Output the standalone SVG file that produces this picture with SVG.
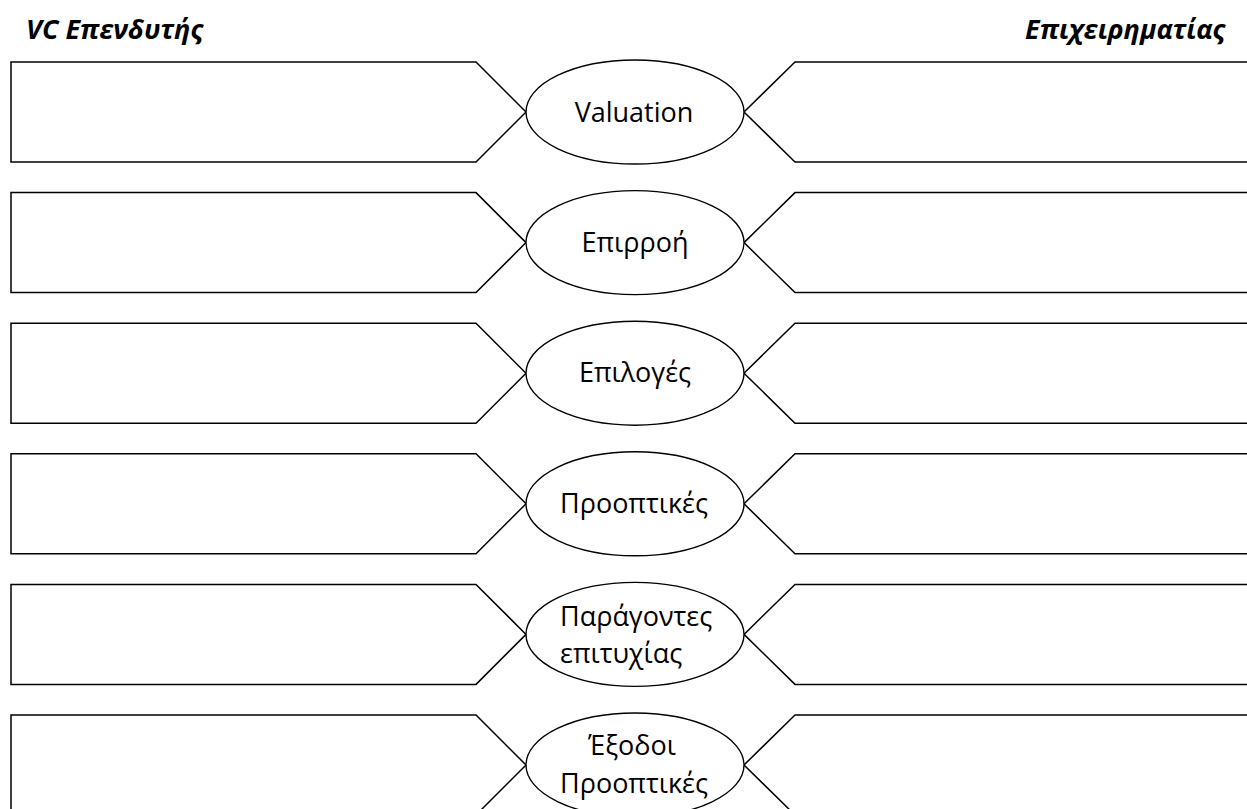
<svg xmlns="http://www.w3.org/2000/svg" width="1247" height="809" viewBox="0 0 1247 809">
<style>
.box{fill:#fff;stroke:#000;stroke-width:1.5;stroke-linejoin:miter}
.ell{fill:#fff;stroke:#000;stroke-width:1.4}
.lbl{font-family:"Open Sans","Noto Sans",sans-serif;font-size:27px;fill:#000;text-anchor:middle}
.lbl.st{text-anchor:start}
.ttl{font-family:"Open Sans","Noto Sans",sans-serif;font-size:27px;font-weight:bold;font-style:italic;fill:#000}
</style>
<rect width="1247" height="809" fill="#fff"/>
<text class="ttl" x="26" y="39">VC Επενδυτής</text>
<text class="ttl" x="1225" y="39" text-anchor="end">Επιχειρηματίας</text>

<g id="row1">
<g id="inv1"><polygon class="box" points="11,62 476,62 526,112 476,162 11,162"/></g>
<g id="ent1"><polygon class="box" points="1250,62 795,62 744,112 795,162 1250,162"/></g>
<g id="topic1"><ellipse class="ell" cx="635" cy="112" rx="109" ry="52"/><text class="lbl" x="634" y="121.5">Valuation</text></g>
</g>
<g id="row2">
<g id="inv2"><polygon class="box" points="11,192.6 476,192.6 526,242.6 476,292.6 11,292.6"/></g>
<g id="ent2"><polygon class="box" points="1250,192.6 795,192.6 744,242.6 795,292.6 1250,292.6"/></g>
<g id="topic2"><ellipse class="ell" cx="635" cy="242.6" rx="109" ry="52"/><text class="lbl" x="635" y="251.8">Επιρροή</text></g>
</g>
<g id="row3">
<g id="inv3"><polygon class="box" points="11,323.2 476,323.2 526,373.2 476,423.2 11,423.2"/></g>
<g id="ent3"><polygon class="box" points="1250,323.2 795,323.2 744,373.2 795,423.2 1250,423.2"/></g>
<g id="topic3"><ellipse class="ell" cx="635" cy="373.2" rx="109" ry="52"/><text class="lbl" x="635" y="382.4">Επιλογές</text></g>
</g>
<g id="row4">
<g id="inv4"><polygon class="box" points="11,453.8 476,453.8 526,503.8 476,553.8 11,553.8"/></g>
<g id="ent4"><polygon class="box" points="1250,453.8 795,453.8 744,503.8 795,553.8 1250,553.8"/></g>
<g id="topic4"><ellipse class="ell" cx="635" cy="503.8" rx="109" ry="52"/><text class="lbl" x="634" y="513">Προοπτικές</text></g>
</g>
<g id="row5">
<g id="inv5"><polygon class="box" points="11,584.4 476,584.4 526,634.4 476,684.4 11,684.4"/></g>
<g id="ent5"><polygon class="box" points="1250,584.4 795,584.4 744,634.4 795,684.4 1250,684.4"/></g>
<g id="topic5"><ellipse class="ell" cx="635" cy="634.4" rx="109" ry="52"/><text class="lbl st" x="560" y="625.6">Παράγοντες</text><text class="lbl st" x="560" y="663.3">επιτυχίας</text></g>
</g>
<g id="row6">
<g id="inv6"><polygon class="box" points="11,715 476,715 526,765 476,815 11,815"/></g>
<g id="ent6"><polygon class="box" points="1250,715 795,715 744,765 795,815 1250,815"/></g>
<g id="topic6"><ellipse class="ell" cx="635" cy="765" rx="109" ry="52"/><text class="lbl" x="632" y="755">Έξοδοι</text><text class="lbl" x="634" y="793.3">Προοπτικές</text></g>
</g>
<g id="connectors"></g>
</svg>
